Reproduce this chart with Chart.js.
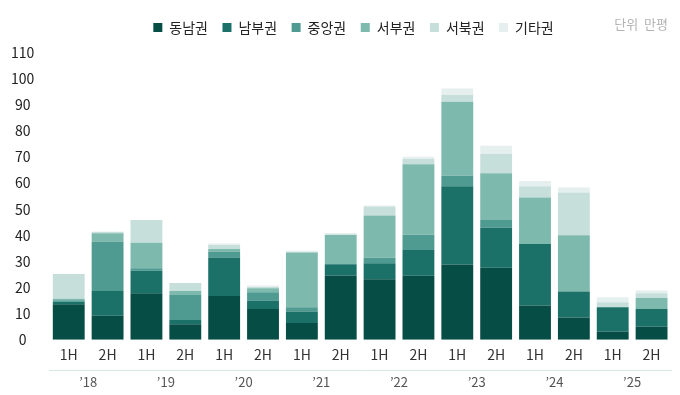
<!DOCTYPE html>
<html lang="ko">
<head>
<meta charset="utf-8">
<title>권역별 물류센터 공급</title>
<script src="https://cdn.jsdelivr.net/npm/chart.js@4.4.1/dist/chart.umd.min.js"></script>
<style>
  html, body { margin: 0; padding: 0; background: #fff; }
  #wrap { position: relative; width: 680px; height: 395px; }
</style>
</head>
<body>
<div id="wrap"><canvas id="supplyChart"></canvas></div>
<script>
'use strict';

// Data (만평)
let halfLabels = ['1H', '2H', '1H', '2H', '1H', '2H', '1H', '2H', '1H', '2H', '1H', '2H', '1H', '2H', '1H', '2H'];
let yearLabels = ['\u201918', '\u201919', '\u201920', '\u201921', '\u201922', '\u201923', '\u201924', '\u201925'];
let yTicks = [0, 10, 20, 30, 40, 50, 60, 70, 80, 90, 100, 110];

let southeast = [13.6, 9.2, 17.8, 6.0, 16.8, 11.8, 6.4, 24.6, 23.2, 24.5, 28.8, 27.6, 13.1, 8.5, 3.2, 5.1];
let south = [1.0, 9.5, 8.6, 1.6, 14.7, 3.2, 4.4, 4.3, 6.1, 9.9, 30.0, 15.3, 23.6, 10.0, 9.3, 6.7];
let central = [0.5, 18.9, 1.0, 9.6, 2.3, 3.2, 1.7, 0, 2.1, 5.8, 4.0, 3.0, 0, 0, 0, 0];
let west = [0.6, 3.2, 9.8, 1.5, 1.0, 1.5, 20.9, 11.2, 16.2, 27.0, 28.3, 17.9, 17.8, 21.5, 0, 4.2];
let northwest = [9.5, 0.6, 8.7, 3.0, 1.5, 0.5, 0.3, 0.3, 3.4, 2.0, 2.6, 7.3, 4.3, 16.4, 1.9, 1.8];
let others = [0, 0, 0, 0, 0.6, 0.6, 0.4, 0.5, 0.4, 0.9, 2.5, 3.2, 2.0, 1.9, 1.9, 1.1];

let regions = [
  { name: '동남권', data: southeast, color: '#064d45' },
  { name: '남부권', data: south, color: '#1b7068' },
  { name: '중앙권', data: central, color: '#4f9b92' },
  { name: '서부권', data: west, color: '#7eb9ae' },
  { name: '서북권', data: northwest, color: '#c7dfdb' },
  { name: '기타권', data: others, color: '#e5f0ee' }
];

let fontFamily = "'Noto Sans CJK KR', 'Noto Sans', sans-serif";

// Unit text, top right
let unitLabel = {
  id: 'unitLabel',
  afterDraw(chart){
    let ctx = chart.ctx;
    ctx.save();
    ctx.font = '13px ' + fontFamily;
    ctx.fillStyle = '#b3b3b3';
    ctx.textAlign = 'right';
    ctx.textBaseline = 'middle';
    ctx.fillText('단위  만평', 668, 24);
    ctx.restore();
  }
};

// Extra room under the legend, and nudge it right a bit
let legendSpace = {
  id: 'legendSpace',
  beforeInit(chart){
    let originalFit = chart.legend.fit;
    chart.legend.fit = function fit(){
      originalFit.bind(chart.legend)();
      this.height += 8;
    };
  },
  afterLayout(chart){
    chart.legend.left += 16;
    chart.legend.right += 16;
  }
};

let datasets = regions.map(region => ({
  label: region.name,
  data: region.data,
  backgroundColor: region.color,
  borderWidth: 0,
  barPercentage: 0.82,
  categoryPercentage: 1
}));

let chartContext = document.getElementById('supplyChart');

new Chart(chartContext, { // eslint-disable-line
  type: 'bar',
  data: {
    labels: halfLabels,
    datasets: datasets
  },
  options: {
    responsive: true,
    maintainAspectRatio: false,
    animation: false,
    layout: {
      padding: { left: 4, right: 9, top: 6, bottom: 0 }
    },
    plugins: {
      legend: {
        position: 'top',
        labels: {
          boxWidth: 9,
          boxHeight: 9,
          padding: 14.5,
          color: '#222',
          font: { family: fontFamily, size: 14 }
        }
      },
      tooltip: { enabled: false }
    },
    scales: {
      x: {
        stacked: true,
        grid: { display: false, drawTicks: false },
        border: { display: false },
        ticks: {
          color: '#333',
          padding: 6,
          font: { family: fontFamily, size: 14, lineHeight: 1.3 }
        }
      },
      xYear: {
        type: 'category',
        labels: yearLabels,
        position: 'bottom',
        offset: true,
        grid: { display: false, drawTicks: false },
        border: { display: true, color: '#d6e6e3', width: 1 },
        ticks: {
          color: '#555',
          padding: 6,
          font: { family: fontFamily, size: 13, lineHeight: 1 }
        }
      },
      y: {
        stacked: true,
        min: 0,
        max: 110,
        afterBuildTicks(axis){
          axis.ticks = yTicks.map(v => ({ value: v }));
        },
        grid: { display: false },
        border: { display: false },
        ticks: {
          color: '#222',
          crossAlign: 'center',
          padding: 7,
          font: { family: fontFamily, size: 14 }
        }
      }
    }
  },
  plugins: [unitLabel, legendSpace]
});
</script>
</body>
</html>
